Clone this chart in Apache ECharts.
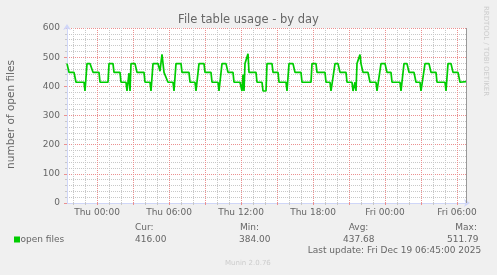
<!DOCTYPE html>
<html>
<head>
<meta charset="utf-8">
<script src="https://cdn.jsdelivr.net/npm/echarts@6/dist/echarts.min.js"></script>
<style>
html,body{margin:0;padding:0;background:#F0F0F0;}
#chart{width:497px;height:275px;}
</style>
</head>
<body>
<div id="chart"></div>
<script>
// 5-minute step index (0 = Wed 21:30) and value at each vertex of the line
var stepIndex = [0,2,7,9,17,18,20,23,26,32,33,41,42,46,47,53,54,59,60,61,62,63,64,68,70,77,78,83,84,86,91,93,95,97,99,101,106,107,109,114,115,122,123,128,129,131,132,137,138,144,145,151,152,153,155,159,161,166,167,173,175,176,177,178,181,182,189,190,195,196,199,200,205,206,211,212,219,220,222,226,228,234,235,244,245,249,250,258,259,263,264,266,268,271,273,279,280,285,286,288,289,290,293,294,296,301,303,309,310,314,318,320,324,325,333,334,335,337,340,342,347,349,353,354,356,358,362,364,369,370,378,379,380,381,384,386,391,393,399];
var openFiles = [478,448,448,414,414,384,478,478,448,448,414,414,478,478,448,448,414,414,384,384,445,384,478,478,448,448,414,414,384,478,478,452,510,448,448,414,414,384,478,478,448,448,414,414,384,384,478,478,448,448,414,414,384,384,478,478,448,448,414,414,384,440,384,478,511.79,448,448,414,414,384,384,478,478,448,448,414,414,384,478,478,448,448,414,414,478,478,448,448,414,414,384,384,478,478,448,448,414,414,384,414,384,478,509,478,448,448,414,414,384,478,478,448,448,414,414,384,384,478,478,448,448,414,414,384,384,478,478,448,448,414,414,384,384,478,478,448,448,414,416];
var xTickLabels = ['Thu 00:00','Thu 06:00','Thu 12:00','Thu 18:00','Fri 00:00','Fri 06:00'];
var yTicks = [0,100,200,300,400,500,600];
var legendStats = {label:'open files', cur:'416.00', min:'384.00', avg:'437.68', max:'511.79'};
var lastUpdate = 'Last update: Fri Dec 19 06:45:00 2025';

// 400 five-minute categories from Wed 21:30
var dayNames = ['Wed','Thu','Fri'];
var categories = [];
for (var i = 0; i < 400; i++) {
  var m = -150 + 5 * i;
  var d = Math.floor(m / 1440);
  var r = m - d * 1440;
  var hh = Math.floor(r / 60), mm = r % 60;
  categories.push(dayNames[d + 1] + ' ' + (hh < 10 ? '0' : '') + hh + ':' + (mm < 10 ? '0' : '') + mm);
}
var majorIdx0 = categories.indexOf('Thu 00:00'); // 30
function isMajor(i){ return i >= majorIdx0 && (i - majorIdx0) % 36 === 0; }
function isMinor(i){ return i % 12 === 6 && !isMajor(i); }

var data = stepIndex.map(function(s, k){ return [s, openFiles[k]]; });

var FONT = 'DejaVu Sans';
var TXT = '#666666';
var AXIS = '#CFD6F8';
var MAJ = '#EB9090';
var MIN = '#C8C8C8';

var chart = echarts.init(document.getElementById('chart'), null, {renderer:'canvas'});
chart.setOption({
  animation: false,
  backgroundColor: '#F0F0F0',
  grid: {left: 67, right: 31, top: 28, bottom: 72, backgroundColor: '#FFFFFF', show: true, borderWidth: 0},
  xAxis: [
    {type: 'value', min: 0, max: 399, show: false, position: 'bottom'},
    {type: 'category', data: categories, boundaryGap: false, position: 'bottom',
      axisLine: {show: false},
      axisTick: {show: true, length: 2, interval: function(i){ return isMinor(i); }, lineStyle: {color: MIN}},
      axisLabel: {show: false},
      splitLine: {show: true, interval: function(i){ return isMinor(i); }, lineStyle: {color: MIN, type: [1,1], width: 1}}
    },
    {type: 'category', data: categories, boundaryGap: false, position: 'bottom',
      axisLine: {show: true, lineStyle: {color: AXIS, width: 1}, symbol: ['none','arrow'], symbolSize: [6,6], symbolOffset: [0,4]},
      axisTick: {show: true, length: 2, interval: function(i){ return isMajor(i); }, lineStyle: {color: MAJ}},
      axisLabel: {show: true, interval: function(i, v){ return xTickLabels.indexOf(v) >= 0; }, color: TXT, fontFamily: FONT, fontSize: 9, margin: 5},
      splitLine: {show: true, interval: function(i){ return isMajor(i); }, lineStyle: {color: MAJ, type: [1,1], width: 1}}
    }
  ],
  yAxis: [{
    type: 'value', min: yTicks[0], max: yTicks[yTicks.length-1], interval: 100,
    axisLine: {show: true, lineStyle: {color: AXIS, width: 1}, symbol: ['none','arrow'], symbolSize: [6,6], symbolOffset: [0,4]},
    axisTick: {show: true, length: 3, lineStyle: {color: MAJ}},
    minorTick: {show: true, splitNumber: 5, length: 2, lineStyle: {color: MIN}},
    axisLabel: {color: TXT, fontFamily: FONT, fontSize: 9, margin: 7},
    splitLine: {show: true, lineStyle: {color: MAJ, type: [1,1], width: 1}},
    minorSplitLine: {show: true, lineStyle: {color: MIN, type: [1,1], width: 1}}
  }],
  series: [{
    type: 'line', xAxisIndex: 0, yAxisIndex: 0, data: data,
    showSymbol: false, smooth: false,
    lineStyle: {color: '#00CC00', width: 1.7},
    z: 5,
    markLine: {silent: true, symbol: ['none','none'], label: {show: false},
      lineStyle: {color: '#999999', type: 'solid', width: 1},
      data: [{xAxis: 399}]}
  }],
  graphic: [
    {type: 'text', left: 'center', top: 14, style: {text: 'File table usage - by day', fill: TXT, font: '11.5px "DejaVu Sans"'}},
    {type: 'text', x: 11, y: 114.5, rotation: Math.PI/2, style: {text: 'number of open files', fill: TXT, font: '10.5px "DejaVu Sans"', textAlign: 'center', textVerticalAlign: 'middle'}},
    {type: 'text', x: 486, y: 51, rotation: -Math.PI/2, style: {text: 'RRDTOOL / TOBI OETIKER', fill: '#CCCCCC', font: '7px "DejaVu Sans"', textAlign: 'center', textVerticalAlign: 'middle'}},
    {type: 'rect', shape: {x: 14, y: 236.5, width: 6, height: 6}, style: {fill: '#00CC00'}},
    {type: 'text', x: 20.5, y: 239.5, style: {text: legendStats.label, fill: TXT, font: '9px "DejaVu Sans"', textVerticalAlign: 'middle'}},
    {type: 'text', x: 135, y: 227.3, style: {text: 'Cur:', fill: TXT, font: '9px "DejaVu Sans"', textVerticalAlign: 'middle'}},
    {type: 'text', x: 135, y: 239.3, style: {text: legendStats.cur, fill: TXT, font: '9px "DejaVu Sans"', textVerticalAlign: 'middle'}},
    {type: 'text', x: 240, y: 227.3, style: {text: 'Min:', fill: TXT, font: '9px "DejaVu Sans"', textVerticalAlign: 'middle'}},
    {type: 'text', x: 239, y: 239.3, style: {text: legendStats.min, fill: TXT, font: '9px "DejaVu Sans"', textVerticalAlign: 'middle'}},
    {type: 'text', x: 348.7, y: 227.3, style: {text: 'Avg:', fill: TXT, font: '9px "DejaVu Sans"', textVerticalAlign: 'middle'}},
    {type: 'text', x: 343, y: 239.3, style: {text: legendStats.avg, fill: TXT, font: '9px "DejaVu Sans"', textVerticalAlign: 'middle'}},
    {type: 'text', x: 455.3, y: 227.3, style: {text: 'Max:', fill: TXT, font: '9px "DejaVu Sans"', textVerticalAlign: 'middle'}},
    {type: 'text', x: 447, y: 239.3, style: {text: legendStats.max, fill: TXT, font: '9px "DejaVu Sans"', textVerticalAlign: 'middle'}},
    {type: 'text', x: 307.7, y: 250.7, style: {text: lastUpdate, fill: TXT, font: '9px "DejaVu Sans"', textVerticalAlign: 'middle'}},
    {type: 'text', x: 225, y: 262.7, style: {text: 'Munin 2.0.76', fill: '#CCCCCC', font: '7px "DejaVu Sans"', textVerticalAlign: 'middle'}}
  ]
});
</script>
</body>
</html>
